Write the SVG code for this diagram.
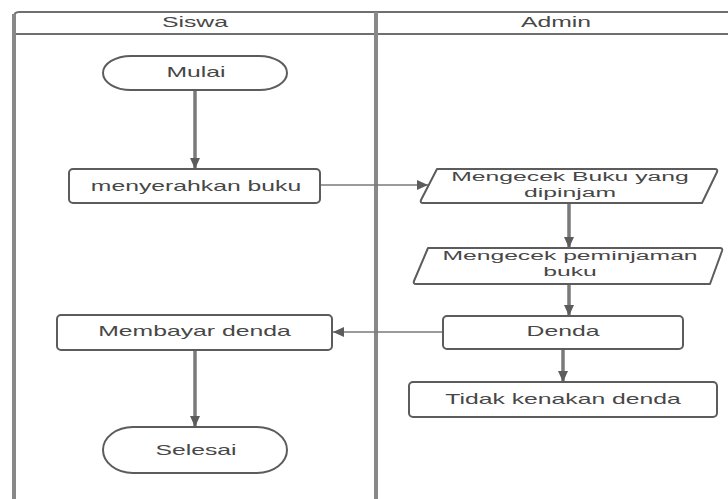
<svg xmlns="http://www.w3.org/2000/svg" width="728" height="499" viewBox="0 0 728 499">
  <style>
    .lane { fill: none; stroke: #888888; stroke-width: 4; }
    .rule { fill: none; stroke: #6f6f6f; stroke-width: 2; }
    .shape { fill: #ffffff; stroke: #5c5c5c; stroke-width: 2; }
    .label { font-family: "Liberation Sans", Arial, sans-serif; font-size: 15px; fill: #474747; text-anchor: middle; }
    .label-sm { font-family: "Liberation Sans", Arial, sans-serif; font-size: 13.5px; fill: #474747; text-anchor: middle; }
    .flow { fill: none; stroke: #7a7a7a; stroke-width: 3.5; }
    .flow-thin { fill: none; stroke: #7a7a7a; stroke-width: 1.5; }
  </style>
  <defs>
    <marker id="arrow" markerUnits="userSpaceOnUse" markerWidth="12" markerHeight="12" viewBox="0 0 12 12" refX="11" refY="6" orient="auto">
      <path d="M0,1 L11,6 L0,11 Z" fill="#5c5c5c"/>
    </marker>
  </defs>

  <rect width="728" height="499" fill="#ffffff"/>

  <!-- swimlane frame -->
  <g id="pool">
    <path class="rule" d="M14,499 L14,17 Q14,12 19,12 L728,12"/>
    <line class="rule" x1="14" y1="34" x2="728" y2="34"/>
    <line class="lane" x1="14" y1="14" x2="14" y2="499"/>
    <line class="lane" x1="376" y1="12" x2="376" y2="499"/>
    <text class="label" transform="translate(195,27) scale(1.65,1)">Siswa</text>
    <text class="label" transform="translate(556,27) scale(1.65,1)">Admin</text>
  </g>

  <!-- connectors -->
  <g id="connectors">
    <line class="flow" x1="195" y1="90" x2="195" y2="169" marker-end="url(#arrow)"/>
    <line class="flow-thin" x1="320" y1="185" x2="428" y2="185" marker-end="url(#arrow)"/>
    <line class="flow" x1="569" y1="203" x2="569" y2="248" marker-end="url(#arrow)"/>
    <line class="flow" x1="569" y1="284" x2="569" y2="316" marker-end="url(#arrow)"/>
    <line class="flow-thin" x1="443" y1="332" x2="333" y2="332" marker-end="url(#arrow)"/>
    <line class="flow" x1="563" y1="349" x2="563" y2="382" marker-end="url(#arrow)"/>
    <line class="flow" x1="195" y1="350" x2="195" y2="427" marker-end="url(#arrow)"/>
  </g>

  <g id="mulai">
    <rect class="shape" x="103" y="56" width="184" height="34" rx="28" ry="17"/>
    <text class="label" transform="translate(196,77) scale(1.65,1)">Mulai</text>
  </g>

  <g id="menyerahkan-buku">
    <rect class="shape" x="69" y="169" width="251" height="34" rx="4"/>
    <text class="label" transform="translate(196,191) scale(1.65,1)">menyerahkan buku</text>
  </g>

  <g id="mengecek-buku">
    <path class="shape" d="M437,169 L715,169 Q718,169 717,172 L702,203 L423,203 Q420,203 421,200 Z" stroke-linejoin="round"/>
    <text class="label-sm" transform="translate(570,0) scale(1.83,1)"><tspan x="0" y="181.5">Mengecek Buku yang</tspan><tspan x="0" y="197.5">dipinjam</tspan></text>
  </g>

  <g id="mengecek-peminjaman">
    <path class="shape" d="M428,248 L720,248 Q723,248 722,251 L710,284 L416,284 Q413,284 414,281 Z" stroke-linejoin="round"/>
    <text class="label-sm" transform="translate(570,0) scale(1.83,1)"><tspan x="0" y="260.5">Mengecek peminjaman</tspan><tspan x="0" y="276.5">buku</tspan></text>
  </g>

  <g id="denda">
    <rect class="shape" x="443" y="316" width="240" height="33" rx="4"/>
    <text class="label" transform="translate(563,336) scale(1.65,1)">Denda</text>
  </g>

  <g id="tidak-kenakan-denda">
    <rect class="shape" x="409" y="382" width="308" height="35" rx="4"/>
    <text class="label" transform="translate(563,404) scale(1.65,1)">Tidak kenakan denda</text>
  </g>

  <g id="membayar-denda">
    <rect class="shape" x="57" y="315" width="275" height="35" rx="4"/>
    <text class="label" transform="translate(194.5,336) scale(1.65,1)">Membayar denda</text>
  </g>

  <g id="selesai">
    <rect class="shape" x="103" y="427" width="184" height="46" rx="30" ry="23"/>
    <text class="label" transform="translate(196,455) scale(1.65,1)">Selesai</text>
  </g>
</svg>
